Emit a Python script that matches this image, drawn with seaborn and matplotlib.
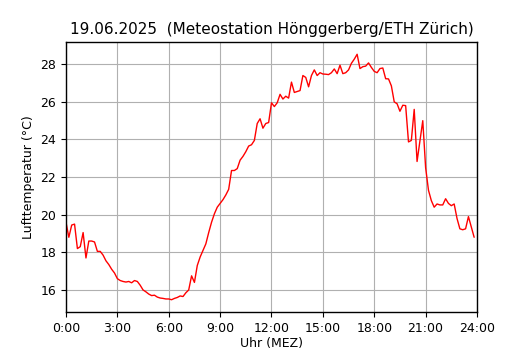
import numpy as np
import pandas as pd
import matplotlib
matplotlib.use("Agg")
import matplotlib.pyplot as plt
import seaborn as sns

# 10-minute air temperature readings (deg C), 0:00 .. 23:50
temp_00_03 = [19.6, 18.8, 19.45, 19.5, 18.2, 18.3, 19.05, 17.7, 18.6, 18.6, 18.55, 18.05,
              18.05, 17.85, 17.55, 17.35, 17.1, 16.9]
temp_03_06 = [16.6, 16.5, 16.45, 16.42, 16.45, 16.38, 16.5, 16.45, 16.25, 16.0, 15.9, 15.78,
              15.7, 15.72, 15.62, 15.57, 15.55, 15.52]
temp_06_09 = [15.52, 15.48, 15.55, 15.6, 15.68, 15.65, 15.85, 16.0, 16.75, 16.4, 17.3, 17.75,
              18.1, 18.45, 19.05, 19.6, 20.05, 20.4]
temp_09_12 = [20.6, 20.8, 21.05, 21.35, 22.35, 22.35, 22.45, 22.9, 23.1, 23.35, 23.65, 23.72,
              23.95, 24.85, 25.1, 24.6, 24.85, 24.9]
temp_12_15 = [25.95, 25.75, 25.95, 26.4, 26.15, 26.3, 26.2, 27.05, 26.5, 26.55, 26.6, 27.4,
              27.3, 26.8, 27.4, 27.7, 27.4, 27.55]
temp_15_18 = [27.48, 27.47, 27.45, 27.55, 27.75, 27.5, 27.95, 27.5, 27.55, 27.7, 28.05, 28.27,
              28.53, 27.77, 27.87, 27.9, 28.07, 27.83]
temp_18_21 = [27.62, 27.55, 27.77, 27.8, 27.23, 27.22, 26.85, 26.0, 25.9, 25.5, 25.82, 25.8,
              23.87, 23.95, 25.6, 22.83, 23.9, 25.0]
temp_21_24 = [22.5, 21.3, 20.75, 20.4, 20.57, 20.52, 20.52, 20.85, 20.6, 20.48, 20.57, 19.8,
              19.25, 19.2, 19.25, 19.9, 19.35, 18.8]

tick_hours = [0, 3, 6, 9, 12, 15, 18, 21, 24]
tick_labels = ["0:00", "3:00", "6:00", "9:00", "12:00", "15:00", "18:00", "21:00", "24:00"]
y_ticks = [16, 18, 20, 22, 24, 26, 28]

temps = (temp_00_03 + temp_03_06 + temp_06_09 + temp_09_12 +
         temp_12_15 + temp_15_18 + temp_18_21 + temp_21_24)
df = pd.DataFrame({"hour": np.arange(len(temps)) / 6.0, "temp": temps})

sns.set_style("ticks")
plt.rcParams["font.family"] = ["DejaVu Sans"]
plt.rcParams["text.color"] = "black"
plt.rcParams["axes.labelcolor"] = "black"

fig = plt.figure(figsize=(5.3, 3.5), dpi=100)
ax = fig.add_axes([0.1245, 0.1086, 0.7755, 0.7714])

sns.lineplot(data=df, x="hour", y="temp", color="red", linewidth=1.0, ax=ax)

ax.set_xlim(0, 24)
ax.set_xticks(tick_hours)
ax.set_xticklabels(tick_labels)
ax.set_yticks(y_ticks)
ax.grid(True, color="#b0b0b0", linewidth=0.8)
ax.set_axisbelow(True)
for s in ax.spines.values():
    s.set_color("black")
    s.set_linewidth(1.0)
ax.tick_params(colors="black", labelsize=9, length=3.5, width=0.8)
ax.set_title("19.06.2025  (Meteostation Hönggerberg/ETH Zürich)", fontsize=11, color="black")
ax.set_xlabel("Uhr (MEZ)", fontsize=9, labelpad=2, color="black")
ax.set_ylabel("Lufttemperatur (°C)", fontsize=9, color="black")

fig.savefig("out.png", dpi=100)
